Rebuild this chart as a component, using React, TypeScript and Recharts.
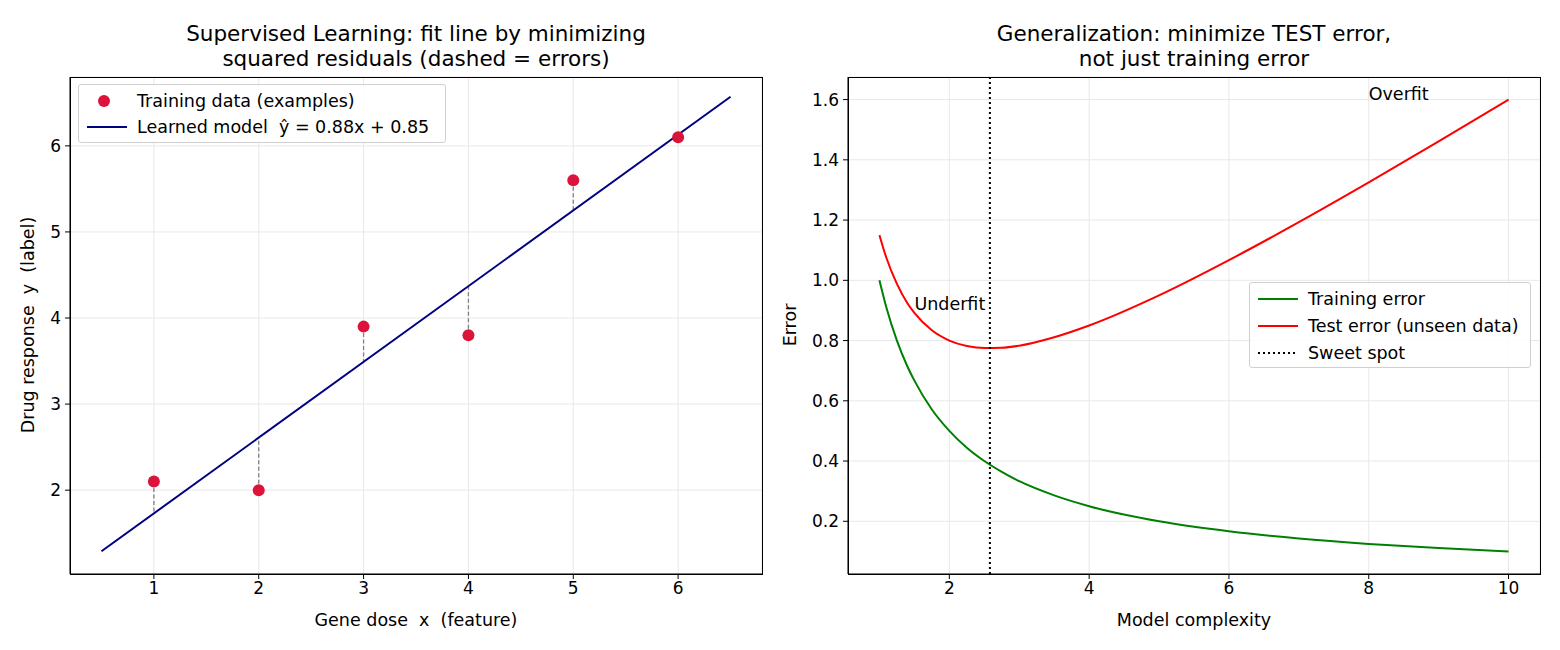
import * as React from "react";
import {
  ComposedChart, Line, Scatter, XAxis, YAxis, CartesianGrid, ReferenceLine, ReferenceDot,
} from "recharts";

// left panel: training examples and the fitted line
const doses = [1, 2, 3, 4, 5, 6];
const responses = [2.1, 2.0, 3.9, 3.8, 5.6, 6.1];
const SLOPE = 0.88;
const INTERCEPT = 0.85;
const fitRange = [0.5, 6.5];
const leftXTicks = [1, 2, 3, 4, 5, 6];
const leftYTicks = [2, 3, 4, 5, 6];

// right panel: error vs model complexity
const complexity = [1, 1.1, 1.25, 1.4, 1.5, 1.75, 2, 2.25, 2.5, 2.75, 3, 3.5, 4, 5, 6, 7, 8, 9, 10];
const trainError = [1.0, 0.909, 0.8, 0.714, 0.667, 0.571, 0.5, 0.444, 0.4, 0.364, 0.333, 0.286, 0.25, 0.2, 0.167, 0.143, 0.125, 0.111, 0.1];
const testError = [1.15, 1.074, 0.988, 0.924, 0.892, 0.834, 0.8, 0.782, 0.775, 0.776, 0.783, 0.811, 0.85, 0.95, 1.067, 1.193, 1.325, 1.461, 1.6];
const sweetSpot = 2.58;
const rightXTicks = [2, 4, 6, 8, 10];
const rightYTicks = [0.2, 0.4, 0.6, 0.8, 1.0, 1.2, 1.4, 1.6];

const FONT = "'DejaVu Sans', sans-serif";
const TEXT = 17.5;
const tickStyle = { fontSize: 17, fill: "#000", fontFamily: FONT };
const gridColor = "#e8e8e8";

const points = doses.map((x, i) => ({ x, y: responses[i] }));
const fitLine = fitRange.map((x) => ({ x, y: SLOPE * x + INTERCEPT }));
const errorRows = complexity.map((x, i) => ({ x, train: trainError[i], test: testError[i] }));

const Dot = (p: any) => <circle cx={p.cx} cy={p.cy} r={6} fill="#dc143c" />;

const Title = ({ lines, cx }: { lines: string[]; cx: number }) => (
  <div style={{
    position: "absolute", left: cx - 350, width: 700, top: 21, textAlign: "center",
    fontFamily: FONT, fontSize: 21.5, lineHeight: "25px", color: "#000",
  }}>
    {lines.map((l) => <div key={l}>{l}</div>)}
  </div>
);

const Frame = ({ left, top, width, height }: any) => (
  <div style={{
    position: "absolute", left, top, width, height, border: "1px solid #000",
    boxSizing: "border-box", pointerEvents: "none",
  }} />
);

const legendBox: React.CSSProperties = {
  position: "absolute", border: "1px solid #d0d0d0", borderRadius: 3,
  background: "rgba(255,255,255,0.85)", fontFamily: FONT, fontSize: TEXT, color: "#000",
  boxSizing: "border-box", whiteSpace: "pre",
};

const LeftLegend = () => (
  <div style={{ ...legendBox, left: 78, top: 84, width: 368, height: 59, padding: "3px 0 0 8px" }}>
    <div style={{ display: "flex", alignItems: "center", height: 26 }}>
      <svg width={40} height={14}><circle cx={17} cy={7} r={6} fill="#dc143c" /></svg>
      <span style={{ marginLeft: 10 }}>Training data (examples)</span>
    </div>
    <div style={{ display: "flex", alignItems: "center", height: 26 }}>
      <svg width={40} height={14}><line x1={0} y1={7} x2={40} y2={7} stroke="#000080" strokeWidth={2} /></svg>
      <span style={{ marginLeft: 10 }}>Learned model  ŷ = 0.88x + 0.85</span>
    </div>
  </div>
);

const RightLegend = () => {
  const rows = [
    { label: "Training error", color: "#008000", dash: undefined },
    { label: "Test error (unseen data)", color: "#ff0000", dash: undefined },
    { label: "Sweet spot", color: "#000", dash: "2 3" },
  ];
  return (
    <div style={{ ...legendBox, left: 1249, top: 282, width: 282, height: 86, padding: "2px 0 0 8px" }}>
      {rows.map((r) => (
        <div key={r.label} style={{ display: "flex", alignItems: "center", height: 27 }}>
          <svg width={40} height={14}>
            <line x1={0} y1={7} x2={40} y2={7} stroke={r.color} strokeWidth={2} strokeDasharray={r.dash} />
          </svg>
          <span style={{ marginLeft: 10 }}>{r.label}</span>
        </div>
      ))}
    </div>
  );
};

const NoteLabel = (text: string) => (props: any) => {
  const vb = props.viewBox || {};
  return (
    <text x={vb.x} y={vb.y} textAnchor="start" fontFamily={FONT} fontSize={TEXT} fill="#000">{text}</text>
  );
};

const AxisTitle = ({ text, x, y, rotate }: { text: string; x: number; y: number; rotate?: boolean }) => (
  <div style={{
    position: "absolute", left: x - 200, top: y - 11, width: 400, textAlign: "center",
    fontFamily: FONT, fontSize: TEXT, lineHeight: "22px", color: "#000", whiteSpace: "pre",
    transform: rotate ? "rotate(-90deg)" : undefined,
  }}>{text}</div>
);

export default function App() {
  return (
    <div style={{ position: "fixed", left: 0, top: 0, width: 1560, height: 650, background: "#fff" }}>
      <Title lines={["Supervised Learning: fit line by minimizing", "squared residuals (dashed = errors)"]} cx={416} />
      <Title lines={["Generalization: minimize TEST error,", "not just training error"]} cx={1194} />

      <div style={{ position: "absolute", left: 0, top: 0 }}>
        <ComposedChart width={780} height={650} margin={{ top: 77, right: 18, bottom: 26, left: 20 }}>
          <CartesianGrid stroke={gridColor} />
          <XAxis type="number" dataKey="x" domain={[0.2, 6.8]} ticks={leftXTicks} allowDataOverflow
            height={50} tick={tickStyle} tickSize={5} tickMargin={3} stroke="#000" />
          <YAxis type="number" dataKey="y" domain={[1.026, 6.8]} ticks={leftYTicks} allowDataOverflow
            width={50} tick={tickStyle} tickSize={5} tickMargin={4} stroke="#000" />
          {points.map((p) => (
            <ReferenceLine key={p.x} segment={[{ x: p.x, y: p.y }, { x: p.x, y: SLOPE * p.x + INTERCEPT }]}
              stroke="#808080" strokeWidth={1.3} strokeDasharray="4 2.5" />
          ))}
          <Line data={fitLine} dataKey="y" type="linear" stroke="#000080" strokeWidth={2}
            dot={false} isAnimationActive={false} />
          <Scatter data={points} dataKey="y" shape={Dot} isAnimationActive={false} />
        </ComposedChart>
      </div>
      <Frame left={70} top={77} width={693} height={498} />
      <LeftLegend />
      <AxisTitle text="Gene dose  x  (feature)" x={416} y={620} />
      <AxisTitle text="Drug response  y  (label)" x={28} y={325} rotate />

      <div style={{ position: "absolute", left: 780, top: 0 }}>
        <ComposedChart width={780} height={650} data={errorRows} margin={{ top: 77, right: 20, bottom: 26, left: 18 }}>
          <CartesianGrid stroke={gridColor} />
          <XAxis type="number" dataKey="x" domain={[0.55, 10.45]} ticks={rightXTicks} allowDataOverflow
            height={50} tick={tickStyle} tickSize={5} tickMargin={3} stroke="#000" />
          <YAxis type="number" domain={[0.025, 1.675]} ticks={rightYTicks} allowDataOverflow
            width={50} tick={tickStyle} tickSize={5} tickMargin={4} stroke="#000"
            tickFormatter={(v: number) => v.toFixed(1)} />
          <Line dataKey="train" type="monotone" stroke="#008000" strokeWidth={2} dot={false} isAnimationActive={false} />
          <Line dataKey="test" type="monotone" stroke="#ff0000" strokeWidth={2} dot={false} isAnimationActive={false} />
          <ReferenceLine x={sweetSpot} stroke="#000" strokeWidth={2} strokeDasharray="2 3" />
          <ReferenceDot x={8} y={1.6} r={0} fill="none" stroke="none" label={NoteLabel("Overfit")} />
          <ReferenceDot x={1.5} y={0.9} r={0} fill="none" stroke="none" label={NoteLabel("Underfit")} />
        </ComposedChart>
      </div>
      <Frame left={848} top={77} width={693} height={498} />
      <RightLegend />
      <AxisTitle text="Model complexity" x={1194} y={620} />
      <AxisTitle text="Error" x={790} y={325} rotate />
    </div>
  );
}
